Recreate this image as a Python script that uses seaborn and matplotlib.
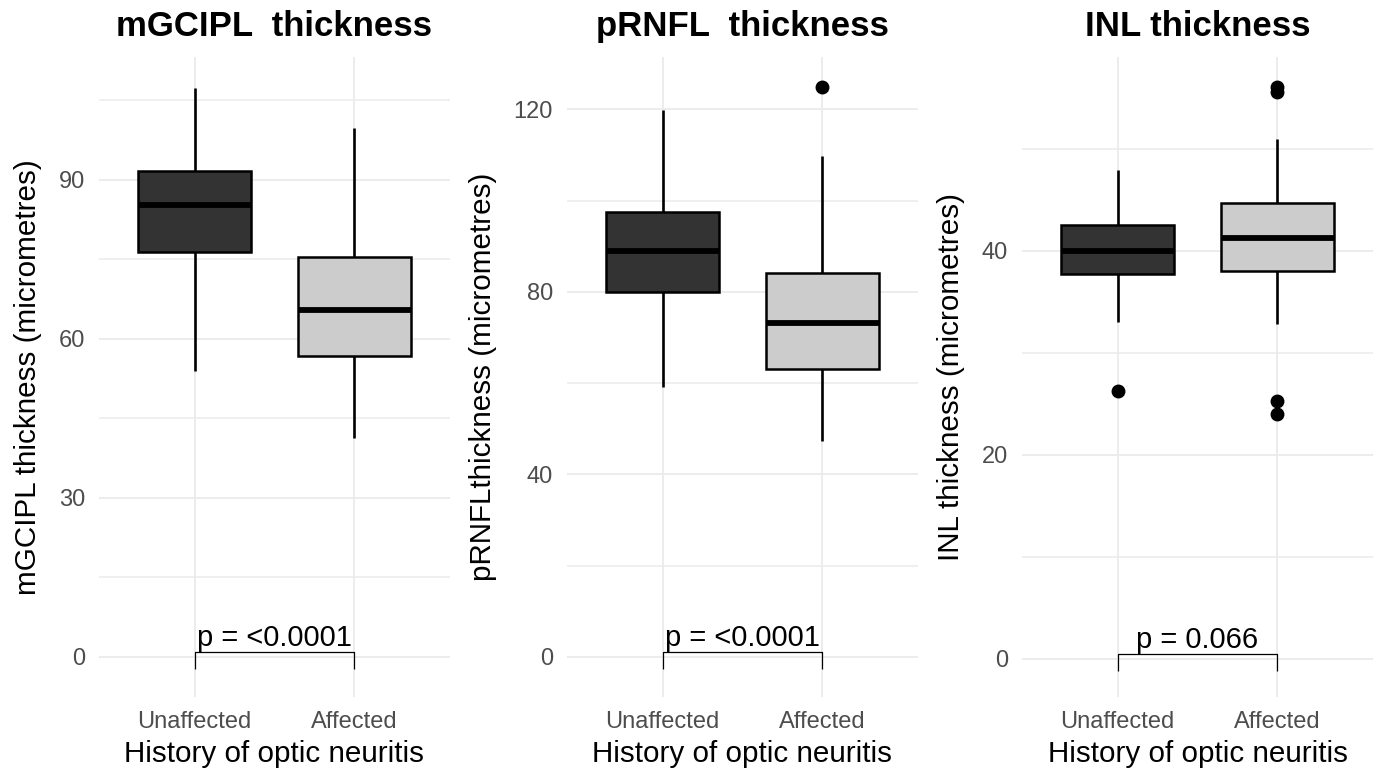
import numpy as np
import pandas as pd
import matplotlib
matplotlib.use("Agg")
import matplotlib.pyplot as plt
import seaborn as sns
from matplotlib.ticker import MultipleLocator

groups = ['Unaffected', 'Affected']
group_colors = ['#333333', '#CCCCCC']
titles = ['mGCIPL  thickness', 'pRNFL  thickness', 'INL thickness']
ylabels = ['mGCIPL thickness (micrometres)', 'pRNFLthickness (micrometres)',
           'INL thickness (micrometres)']
xlabel = 'History of optic neuritis'
p_labels = ['p = <0.0001', 'p = <0.0001', 'p = 0.066']

# values: whisker ends, quartiles, medians and outliers
mgcipl_unaffected = [54.0, 76.5, 85.3, 91.7, 107.4]
mgcipl_affected = [41.3, 56.8, 65.5, 75.5, 99.8]
prnfl_unaffected = [59.2, 80.0, 89.0, 97.5, 119.9]
prnfl_affected = [47.3, 63.1, 63.1, 73.2, 73.2, 73.2, 84.2, 109.8, 124.9]
inl_unaffected = [26.3, 33.0, 37.7, 40.0, 40.0, 40.0, 42.5, 42.5, 47.9]
inl_affected = [24.0, 25.3, 32.8, 38.0, 41.3, 41.3, 41.3, 41.3, 41.3, 44.7,
                51.0, 55.6, 56.1]

y_steps = [30, 40, 20]
y_limits = [(-7.55, 113.2), (-8.77, 131.5), (-3.73, 59.0)]

panels = [(mgcipl_unaffected, mgcipl_affected),
          (prnfl_unaffected, prnfl_affected),
          (inl_unaffected, inl_affected)]

plt.rcParams['font.family'] = ['Liberation Sans', 'DejaVu Sans']

W, H = 1378, 769
fig = plt.figure(figsize=(W / 100, H / 100), dpi=100)
fig.patch.set_facecolor('white')

lefts = [99, 567, 1022]
ax_w, top, bottom = 351, 57, 697

for i, (unaff, aff) in enumerate(panels):
    ax = fig.add_axes([lefts[i] / W, 1 - bottom / H, ax_w / W, (bottom - top) / H])
    df = pd.DataFrame({
        'group': [groups[0]] * len(unaff) + [groups[1]] * len(aff),
        'value': unaff + aff,
    })
    sns.boxplot(ax=ax, data=df, x='group', y='value', hue='group', order=groups,
                hue_order=groups, palette=group_colors, saturation=1, width=0.71,
                linecolor='black', linewidth=1.8, showcaps=False, legend=False,
                whiskerprops=dict(linewidth=1.9),
                medianprops=dict(linewidth=4.2, color='black'),
                flierprops=dict(marker='o', markersize=9, markerfacecolor='black',
                                markeredgecolor='black'))

    ax.set_xlim(-0.6, 1.6)
    ax.set_ylim(*y_limits[i])
    ax.yaxis.set_major_locator(MultipleLocator(y_steps[i]))
    ax.yaxis.set_minor_locator(MultipleLocator(y_steps[i] / 2))
    ax.set_axisbelow(True)
    ax.grid(which='major', color='#EBEBEB', linewidth=1.3)
    ax.grid(which='minor', axis='y', color='#EBEBEB', linewidth=1.1)
    for s in ax.spines.values():
        s.set_visible(False)
    ax.tick_params(which='both', length=0)
    ax.tick_params(axis='y', labelsize=17, labelcolor='#4D4D4D', pad=10)
    ax.tick_params(axis='x', labelsize=17, labelcolor='#4D4D4D', pad=10)
    ax.set_facecolor('white')

    ax.set_title(titles[i], fontsize=25, fontweight='bold', pad=15)
    ax.set_xlabel(xlabel, fontsize=21.3, labelpad=5)
    ax.set_ylabel(ylabels[i], fontsize=21.3, labelpad=12)

    # comparison bracket, sized in pixels like ggpubr draws it
    dpp = (y_limits[i][1] - y_limits[i][0]) / (bottom - top)
    line_y = 5 * dpp
    tick_y = -12 * dpp
    ax.plot([0, 0, 1, 1], [tick_y, line_y, line_y, tick_y], color='black',
            linewidth=0.9, solid_capstyle='butt')
    ax.text(0.5, 11 * dpp, p_labels[i], ha='center', va='baseline', fontsize=21,
            color='black')

fig.savefig('out.png', dpi=100, facecolor='white')
